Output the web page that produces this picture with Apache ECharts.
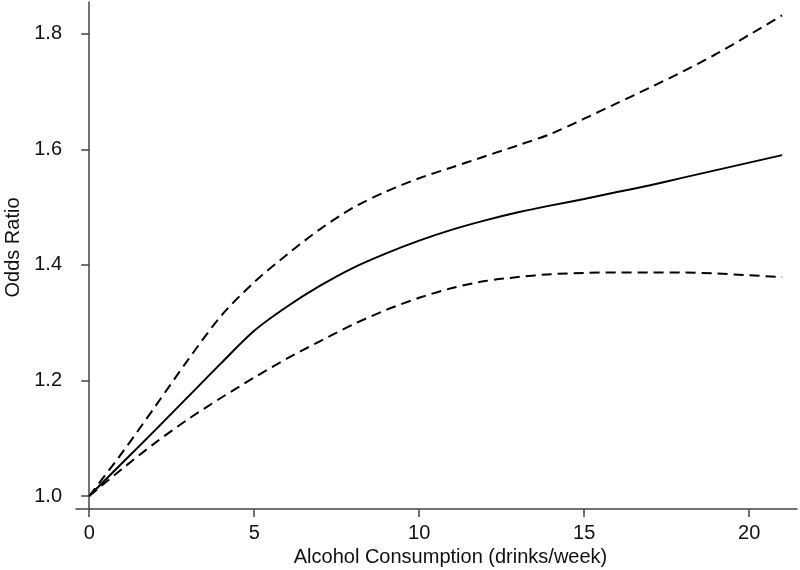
<!DOCTYPE html>
<html>
<head>
<meta charset="utf-8">
<script src="https://cdn.jsdelivr.net/npm/echarts@6/dist/echarts.min.js"></script>
<style>
  html, body { margin: 0; padding: 0; background: #fff; }
  #chart { width: 800px; height: 570px; }
</style>
</head>
<body>
<div id="chart"></div>
<script>
// odds ratio curve and 95% CI
const drinks = [0, 1, 2, 3, 4, 5, 6, 7, 8, 9, 10, 11, 12, 13, 14, 15, 16, 17, 18, 19, 20, 21];
const estimate = [1.0, 1.057, 1.114, 1.172, 1.23, 1.286, 1.328, 1.364, 1.395, 1.42, 1.442,
  1.461, 1.477, 1.491, 1.503, 1.514, 1.526, 1.538, 1.551, 1.564, 1.577, 1.59];
const upperCI = [1.0, 1.075, 1.155, 1.236, 1.312, 1.37, 1.418, 1.462, 1.499, 1.527, 1.55,
  1.569, 1.588, 1.607, 1.627, 1.653, 1.68, 1.707, 1.735, 1.765, 1.798, 1.832];
const lowerCI = [1.0, 1.047, 1.092, 1.133, 1.17, 1.205, 1.238, 1.268, 1.297, 1.322, 1.343,
  1.36, 1.372, 1.379, 1.384, 1.386, 1.387, 1.387, 1.387, 1.385, 1.382, 1.379];
const xTicks = [0, 5, 10, 15, 20];
const yTicks = [1.0, 1.2, 1.4, 1.6, 1.8];

const chart = echarts.init(document.getElementById('chart'));

const font = 'Liberation Sans, Arial, sans-serif';
const axisLineStyle = { color: '#444', width: 1.5 };

function lineSeries(values, dashed) {
  return {
    type: 'line',
    data: drinks.map((d, i) => [d, values[i]]),
    showSymbol: false,
    symbol: 'none',
    smooth: 0.3,
    silent: true,
    lineStyle: {
      color: '#000',
      width: 2,
      type: dashed ? [10, 6] : 'solid'
    }
  };
}

const option = {
  animation: false,
  grid: { left: 76, right: 3, top: 2, bottom: 61, outerBoundsMode: 'none' },
  xAxis: {
    type: 'value',
    min: -0.4,
    max: 21.45,
    name: 'Alcohol Consumption (drinks/week)',
    nameLocation: 'middle',
    nameGap: 37,
    nameTextStyle: { color: '#111', fontSize: 20, fontFamily: font, padding: [0, 0, 0, 28] },
    axisLine: { show: true, lineStyle: axisLineStyle },
    splitLine: { show: false },
    axisTick: { show: true, customValues: xTicks, length: 8, lineStyle: axisLineStyle },
    axisLabel: { customValues: xTicks, margin: 14, color: '#111', fontSize: 20, fontFamily: font }
  },
  yAxis: {
    type: 'value',
    min: 0.9775,
    max: 1.855,
    name: 'Odds Ratio',
    nameLocation: 'middle',
    nameGap: 52,
    nameTextStyle: { color: '#111', fontSize: 20, fontFamily: font, padding: [0, 0, 0, 16] },
    axisLine: { show: true, lineStyle: axisLineStyle },
    splitLine: { show: false },
    axisTick: { show: true, customValues: yTicks, length: 8, lineStyle: axisLineStyle },
    axisLabel: {
      customValues: yTicks, margin: 14, color: '#111', fontSize: 20, fontFamily: font,
      formatter: v => v.toFixed(1)
    }
  },
  series: [
    lineSeries(upperCI, true),
    lineSeries(estimate, false),
    lineSeries(lowerCI, true)
  ]
};

chart.setOption(option);
</script>
</body>
</html>
